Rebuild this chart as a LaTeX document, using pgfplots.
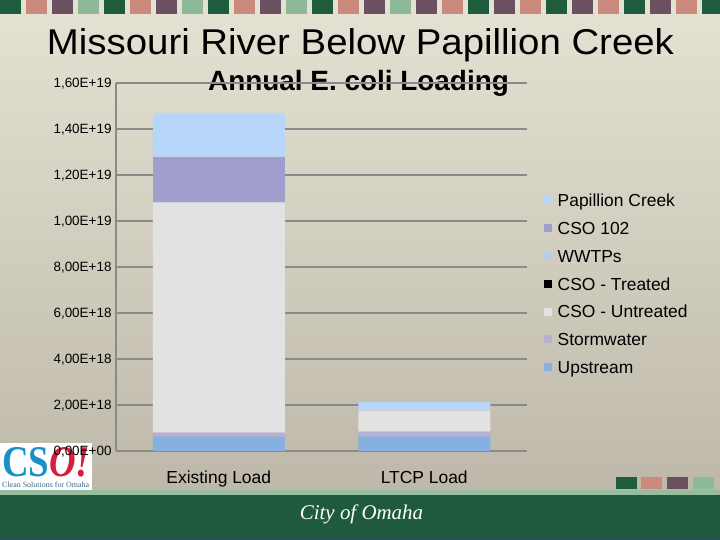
\documentclass[border=0pt]{standalone}
\usepackage{fontspec}
\setmainfont{Liberation Sans}
\newfontfamily\logofont{Liberation Serif}
\usepackage{pgfplots}
\pgfplotsset{compat=1.18}
\definecolor{bgtop}{HTML}{E4E1D3}
\definecolor{bgbot}{HTML}{BDB8AA}
\definecolor{sqG}{HTML}{1F5B3D}
\definecolor{sqS}{HTML}{CC8A7C}
\definecolor{sqP}{HTML}{6B5060}
\definecolor{sqA}{HTML}{8DB89A}
\definecolor{footlight}{HTML}{97BDA0}
\definecolor{footgreen}{HTML}{1F5A3D}
\definecolor{footline}{HTML}{25505A}
\definecolor{logoblue}{HTML}{1A90C8}
\definecolor{logored}{HTML}{D4203C}
\definecolor{logotext}{HTML}{3A6A8A}
\definecolor{gridgray}{HTML}{8A8A8A}
\definecolor{cPap}{HTML}{B6D6FA}
\definecolor{cCso}{HTML}{A09ECC}
\definecolor{cWwtp}{HTML}{B9CDE6}
\definecolor{cTrt}{HTML}{000000}
\definecolor{cUnt}{HTML}{E2E2E2}
\definecolor{cSw}{HTML}{B4B0D6}
\definecolor{cUp}{HTML}{86B0E2}
\begin{document}
\begin{tikzpicture}[x=1bp,y=1bp]
\useasboundingbox (0,0) rectangle (720,540);
% slide background
\shade[top color=bgtop, bottom color=bgbot] (0,49) rectangle (720,526);
\fill[bgtop] (0,526) rectangle (720,540);
\foreach \c [count=\k from 0] in {sqG,sqS,sqP,sqA,sqG,sqS,sqP,sqA,sqG,sqS,sqP,sqA,sqG,sqS,sqP,sqA,sqP,sqS,sqG,sqP,sqS,sqG,sqP,sqS,sqG,sqP,sqS,sqG}
  {\fill[\c] ({26*\k},526) rectangle ({26*\k+20.5},540);}
% footer
\fill[footlight] (0,45) rectangle (720,49.5);
\fill[footgreen] (0,2) rectangle (720,45);
\fill[footline] (0,0) rectangle (720,2);
\node[anchor=base, inner sep=0, text=white, font=\logofont\itshape\fontsize{21}{24}\selectfont] at (361.5,20) {City of Omaha};
\fill[sqG] (616,51) rectangle (637,63);
\fill[sqS] (641,51) rectangle (662,63);
\fill[sqP] (667,51) rectangle (688,63);
\fill[sqA] (693,51) rectangle (714,63);
% logo
\fill[white] (0,49.5) rectangle (92,97.3);
\node[anchor=base west, inner sep=0] at (2,63) {\scalebox{0.84}[1]{\logofont\bfseries\fontsize{44}{44}\selectfont\textcolor{logoblue}{CS}\textcolor{logored}{\itshape O!}}};
\node[anchor=base west, inner sep=0, text=logotext, font=\logofont\fontsize{8}{9}\selectfont] at (2,52.5) {Clean Solutions for Omaha};
% titles
\node[anchor=base, inner sep=0, font=\fontsize{36}{40}\selectfont] at (360.5,485.7) {\scalebox{1.07}[1]{Missouri River Below Papillion Creek}};
\node[anchor=base, inner sep=0, font=\bfseries\fontsize{28}{32}\selectfont] at (358.5,449.3) {Annual E. coli Loading};
\begin{axis}[
  at={(116bp,89bp)}, anchor=south west, scale only axis,
  width=411bp, height=368bp,
  xmin=-0.5, xmax=1.5, ymin=0, ymax=16e18,
  ybar stacked, bar width=132bp,
  xtick={0,1}, xticklabels={Existing Load, LTCP Load},
  ytick={0,2e18,4e18,6e18,8e18,10e18,12e18,14e18,16e18},
  yticklabels={{0,00E+00},{2,00E+18},{4,00E+18},{6,00E+18},{8,00E+18},{1,00E+19},{1,20E+19},{1,40E+19},{1,60E+19}},
  scaled y ticks=false,
  axis x line*=bottom, axis y line*=left,
  axis line style={gridgray, line width=1.8bp},
  ymajorgrids, grid style={gridgray, line width=1.8bp},
  major tick length=0pt,
  xticklabel style={font=\fontsize{17.5}{20}\selectfont, inner sep=0pt, text height=12.5bp, text depth=0pt, anchor=north, yshift=-19.5bp},
  yticklabel style={font=\fontsize{13.5}{15}\selectfont, inner sep=0pt, text height=9.7bp, text depth=0pt, anchor=east, xshift=-4.3bp},
  reverse legend,
  legend cell align=left,
  legend image code/.code={\fill[#1] (0bp,-4bp) rectangle (8bp,4bp); \path (13.7bp,0bp);},
  legend style={at={(1.0414,0.7019)}, anchor=north west, draw=none, fill=none, inner sep=0pt, outer sep=0pt,
    font=\fontsize{17.5}{20}\selectfont, row sep=12.2bp,
    nodes={inner sep=0pt, text height=14bp, text depth=1.6bp}},
]
\addplot[fill=cUp, draw=none] coordinates {(0,0.62e18) (1,0.62e18)};
\addplot[fill=cSw, draw=none] coordinates {(0,0.18e18) (1,0.22e18)};
\addplot[fill=cUnt, draw=none] coordinates {(0,10.0e18) (1,0.92e18)};
\addplot[fill=cTrt, draw=none] coordinates {(0,0.002e18) (1,0)};
\addplot[fill=cWwtp, draw=none] coordinates {(0,0.02e18) (1,0.03e18)};
\addplot[fill=cCso, draw=none] coordinates {(0,1.98e18) (1,0)};
\addplot[fill=cPap, draw=none] coordinates {(0,1.90e18) (1,0.35e18)};
\legend{Upstream, Stormwater, CSO - Untreated, CSO - Treated, WWTPs, CSO 102, Papillion Creek}
\end{axis}
\end{tikzpicture}
\end{document}
